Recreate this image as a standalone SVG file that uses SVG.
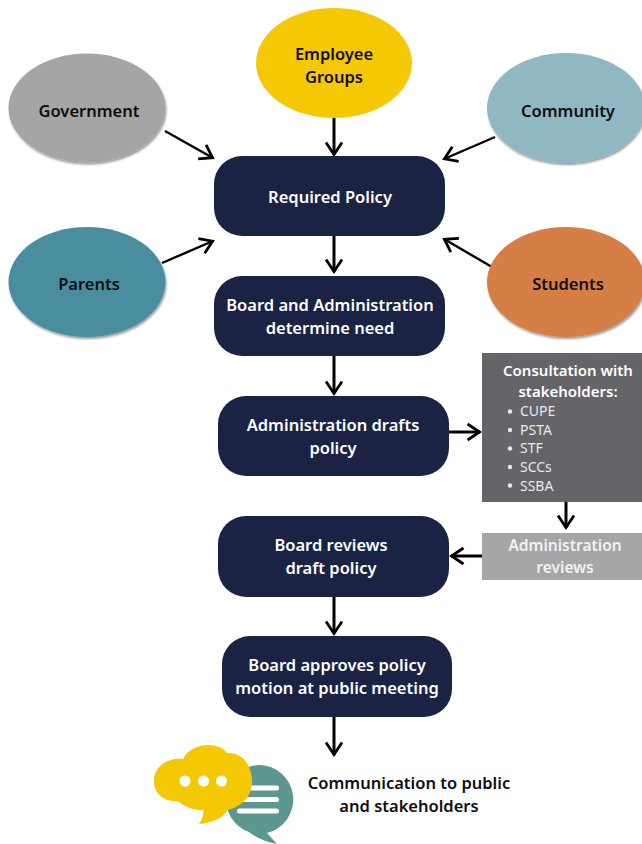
<svg xmlns="http://www.w3.org/2000/svg" width="642" height="844" viewBox="0 0 642 844">
<defs>
<filter id="sh" x="-10%" y="-10%" width="125%" height="125%"><feDropShadow dx="1" dy="2" stdDeviation="1.200" flood-color="#000" flood-opacity="0.4"/></filter>
<marker id="ah" viewBox="0 0 20 20" refX="17.500" refY="10" markerWidth="20" markerHeight="20" markerUnits="userSpaceOnUse" orient="auto"><path d="M5 2 L17 10 L5 18" fill="none" stroke="#000" stroke-width="2.800"/></marker>
</defs>
<style>
text{font-family:"Noto Sans","Open Sans",sans-serif;font-weight:600;text-anchor:middle}
.d{fill:#0d0d12;font-size:16.500px}
.w{fill:#fff;font-size:16.500px}
.n{fill:#1a2344}
.c{fill:none;stroke:#000;stroke-width:3;marker-end:url(#ah)}
.t{stroke-width:2.400}
.l{fill:#e8e8ea;font-size:14px;font-weight:400;text-anchor:start}
</style>
<rect width="642" height="844" fill="#fff"/>
<g id="connectors">
<path class="c" d="M334 117V155"/>
<path class="c t" d="M165 131L213 158"/>
<path class="c t" d="M495 137L444 159"/>
<path class="c t" d="M162 263L213 241"/>
<path class="c t" d="M492 267L444 239"/>
<path class="c" d="M334 236V272"/>
<path class="c" d="M334 356V394"/>
<path class="c" d="M449 432H480"/>
<path class="c" d="M566 502V528"/>
<path class="c" d="M482 556H451"/>
<path class="c" d="M334 597V634"/>
<path class="c" d="M334 717V755"/>
</g>
<g id="employee"><ellipse cx="334" cy="63" rx="78" ry="55" fill="#f5c806"/><text class="d"><tspan x="334" y="60">Employee</tspan><tspan x="334" y="83">Groups</tspan></text></g>
<g id="government"><ellipse cx="87" cy="108" rx="78.500" ry="54.500" fill="#a5a5a5" filter="url(#sh)"/><text class="d" x="89" y="117">Government</text></g>
<g id="community"><ellipse cx="566" cy="108" rx="79" ry="55" fill="#8fb8c3" filter="url(#sh)"/><text class="d" x="568" y="117">Community</text></g>
<g id="parents"><ellipse cx="87" cy="282" rx="78.500" ry="55" fill="#4a8d9e" filter="url(#sh)"/><text class="d" x="89" y="290">Parents</text></g>
<g id="students"><ellipse cx="566" cy="282" rx="79" ry="55" fill="#d57f47" filter="url(#sh)"/><text class="d" x="568" y="290">Students</text></g>
<g id="required"><rect class="n" x="214" y="156" width="231" height="80" rx="28"/><text class="w" x="330" y="202.500">Required Policy</text></g>
<g id="determine"><rect class="n" x="214" y="276" width="231" height="80" rx="28"/><text class="w"><tspan x="330" y="311">Board and Administration</tspan><tspan x="330" y="334">determine need</tspan></text></g>
<g id="drafts"><rect class="n" x="218" y="396" width="231" height="80" rx="28"/><text class="w"><tspan x="333" y="431">Administration drafts</tspan><tspan x="333" y="454">policy</tspan></text></g>
<g id="reviews"><rect class="n" x="218" y="516" width="231" height="81" rx="28"/><text class="w"><tspan x="331" y="551">Board reviews</tspan><tspan x="331" y="574">draft policy</tspan></text></g>
<g id="approves"><rect class="n" x="222" y="636" width="230" height="81" rx="28"/><text class="w"><tspan x="337" y="671">Board approves policy</tspan><tspan x="337" y="694">motion at public meeting</tspan></text></g>
<g id="consultation"><rect x="482" y="353" width="160" height="149" fill="#656469"/>
<text class="w" style="font-size:15px"><tspan x="568" y="376">Consultation with</tspan><tspan x="568" y="397">stakeholders:</tspan></text>
<circle cx="510" cy="411.500" r="2.200" fill="#e8e8ea"/><circle cx="510" cy="430" r="2.200" fill="#e8e8ea"/><circle cx="510" cy="448.500" r="2.200" fill="#e8e8ea"/><circle cx="510" cy="467" r="2.200" fill="#e8e8ea"/><circle cx="510" cy="485.500" r="2.200" fill="#e8e8ea"/>
<text class="l" x="520" y="416">CUPE</text><text class="l" x="520" y="435">PSTA</text><text class="l" x="520" y="453">STF</text><text class="l" x="520" y="472">SCCs</text><text class="l" x="520" y="491">SSBA</text></g>
<g id="admin-reviews"><rect x="482" y="533" width="160" height="47" fill="#a6a6a6"/><text class="w" style="fill:#f2f2f2;font-size:15.500px"><tspan x="565" y="551">Administration</tspan><tspan x="565" y="573">reviews</tspan></text></g>
<g id="communication">
<path d="M259 765a34.500 34.500 0 0 1 8 68l10 11q-17-3-28-12a34.500 34.500 0 0 1 10-67z" fill="#5c9790"/>
<rect x="240" y="785.500" width="39" height="5" rx="2.500" fill="#fff"/><rect x="240" y="797" width="39" height="5" rx="2.500" fill="#fff"/><rect x="237" y="808.500" width="42" height="5" rx="2.500" fill="#fff"/>
<path d="M183 759C191 742 219 741 227 753C243 752 252 766 252 781C252 798 240 807 228 810C223 818 212 823 199 824C203 818 204 814 203 810C195 811 183 806 178 801C164 802 154 794 154 781C154 767 167 757 183 759z" fill="#f5c806"/>
<circle cx="185" cy="781" r="5.500" fill="#fff"/><circle cx="203.500" cy="781" r="5.500" fill="#fff"/><circle cx="221.500" cy="781" r="5.500" fill="#fff"/>
<text class="d"><tspan x="409" y="789">Communication to public</tspan><tspan x="409" y="812">and stakeholders</tspan></text></g>
</svg>
